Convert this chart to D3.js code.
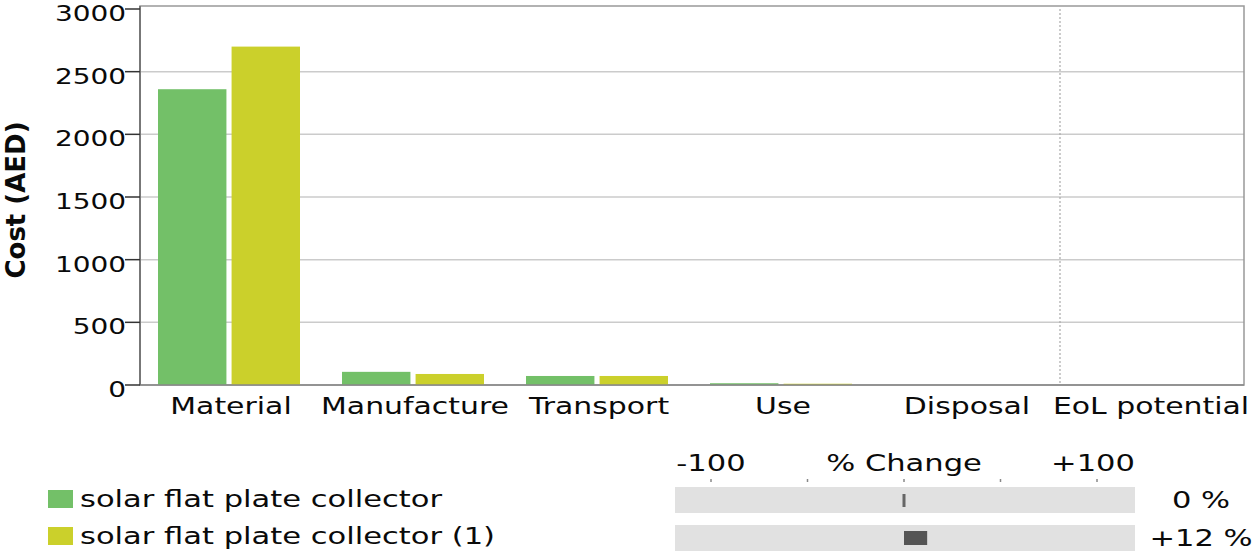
<!DOCTYPE html>
<html>
<head>
<meta charset="utf-8">
<script src="https://cdn.jsdelivr.net/npm/d3@7"></script>
<style>
  body { margin: 0; background: #fff; }
  svg { display: block; font-family: "DejaVu Sans", sans-serif; }
</style>
</head>
<body>
<div id="chart"></div>
<script>
// дані з картинки (оцінка)
const categories = ["Material", "Manufacture", "Transport", "Use", "Disposal", "EoL potential"];
const seriesNames = ["solar flat plate collector", "solar flat plate collector (1)"];
const seriesA = [2360, 105, 72, 14, 0, 0];
const seriesB = [2700, 88, 72, 10, 0, 0];
const pctChange = [0, 12];
const yTicks = [0, 500, 1000, 1500, 2000, 2500, 3000];
const pctTicks = [-100, -50, 0, 50, 100];

const width = 1256, height = 556;
const colors = ["#73c068", "#cbd02b"];
const sx = 1.3; // картинка розтягнута по горизонталі

const svg = d3.select("#chart").append("svg")
    .attr("width", width).attr("height", height);

// текст з горизонтальним розтягом
function label(g, x, y, txt, anchor, size, weight) {
    return g.append("text")
        .attr("transform", `translate(${x},${y}) scale(${sx},1)`)
        .attr("text-anchor", anchor || "start")
        .style("font-size", (size || 22) + "px")
        .style("font-weight", weight || "normal")
        .style("fill", "#0a0a0a")
        .text(txt);
}

const plot = { left: 140, right: 1244, top: 9, bottom: 385 };

const x = d3.scaleBand().domain(categories).range([plot.left, plot.right]);
const xSub = d3.scaleBand().domain([0, 1]).range([18, x.bandwidth() - 24]).paddingInner(0.07);
const y = d3.scaleLinear().domain([0, 3000]).range([plot.bottom, plot.top]);

// сітка
svg.append("g").selectAll("line")
    .data(yTicks.filter(d => d > 0 && d < 3000))
    .join("line")
    .attr("x1", plot.left).attr("x2", plot.right)
    .attr("y1", d => y(d)).attr("y2", d => y(d))
    .attr("stroke", "#cbcbcb").attr("stroke-width", 1.5);

// пунктир між Disposal і EoL
svg.append("line")
    .attr("x1", x("EoL potential")).attr("x2", x("EoL potential"))
    .attr("y1", plot.top).attr("y2", plot.bottom)
    .attr("stroke", "#aaa").attr("stroke-width", 1.2)
    .attr("stroke-dasharray", "2,2");

// рамка
svg.append("rect")
    .attr("x", plot.left).attr("y", y(3000) - 3)
    .attr("width", plot.right - plot.left).attr("height", plot.bottom - y(3000) + 3)
    .attr("fill", "none").attr("stroke", "#999").attr("stroke-width", 1.5);

// стовпчики
const groups = svg.append("g").selectAll("g")
    .data(categories)
    .join("g")
    .attr("transform", d => `translate(${x(d)},0)`);

groups.selectAll("rect")
    .data((d, i) => [seriesA[i], seriesB[i]])
    .join("rect")
    .attr("x", (d, j) => xSub(j))
    .attr("width", xSub.bandwidth())
    .attr("y", d => y(d))
    .attr("height", d => y(0) - y(d))
    .attr("fill", (d, j) => colors[j]);

// осі
svg.append("line")
    .attr("x1", plot.left).attr("x2", plot.right)
    .attr("y1", plot.bottom).attr("y2", plot.bottom)
    .attr("stroke", "#888").attr("stroke-width", 1.5);
svg.append("line")
    .attr("x1", plot.left).attr("x2", plot.left)
    .attr("y1", y(3000) - 3).attr("y2", plot.bottom)
    .attr("stroke", "#777").attr("stroke-width", 2);

const yAxis = svg.append("g");
yTicks.forEach(t => {
    yAxis.append("line")
        .attr("x1", plot.left - 15).attr("x2", plot.left)
        .attr("y1", y(t)).attr("y2", y(t))
        .attr("stroke", "#333").attr("stroke-width", 1.5);
    label(yAxis, plot.left - 14, y(t) + 12, t, "end", 21.5);
});

svg.append("text")
    .attr("transform", `translate(25,200) rotate(-90)`)
    .attr("text-anchor", "middle")
    .style("font-size", "26px").style("font-weight", "bold").style("fill", "#0a0a0a")
    .text("Cost (AED)");

// підписи категорій
const xAxis = svg.append("g");
categories.forEach(c => {
    label(xAxis, x(c) + x.bandwidth() / 2 - 1, 414, c, "middle", 23);
});

// легенда
const legend = svg.append("g");
seriesNames.forEach((s, i) => {
    const ly = 490 + i * 37;
    legend.append("rect")
        .attr("x", 48).attr("y", ly)
        .attr("width", 25).attr("height", 18)
        .attr("fill", colors[i]);
    label(legend, 80, ly + 17, s, "start", 23.5);
});

// панель % Change
const px = d3.scaleLinear().domain([-100, 100]).range([711, 1097]);
const pct = svg.append("g");

label(pct, px(-100), 471, "-100", "middle", 23.5);
label(pct, px(0), 471, "% Change", "middle", 23.5);
label(pct, px(100) - 4, 471, "+100", "middle", 23.5);

pct.selectAll("line.tick")
    .data(pctTicks)
    .join("line")
    .attr("class", "tick")
    .attr("x1", d => px(d)).attr("x2", d => px(d))
    .attr("y1", 479).attr("y2", 482)
    .attr("stroke", "#888").attr("stroke-width", 1.5);

pctChange.forEach((v, i) => {
    const by = 487 + i * 38;
    pct.append("rect")
        .attr("x", 675).attr("y", by)
        .attr("width", 460).attr("height", 26)
        .attr("fill", "#e1e1e1");
    if (v === 0) {
        pct.append("rect")
            .attr("x", px(0) - 1.5).attr("y", by + 7)
            .attr("width", 3).attr("height", 13)
            .attr("fill", "#666");
    } else {
        pct.append("rect")
            .attr("x", px(Math.min(0, v))).attr("y", by + 6)
            .attr("width", Math.abs(px(v) - px(0))).attr("height", 14)
            .attr("fill", "#555");
    }
    label(pct, 1201, by + 21, (v > 0 ? "+" : "") + v + " %", "middle", 23.5);
});
</script>
</body>
</html>
